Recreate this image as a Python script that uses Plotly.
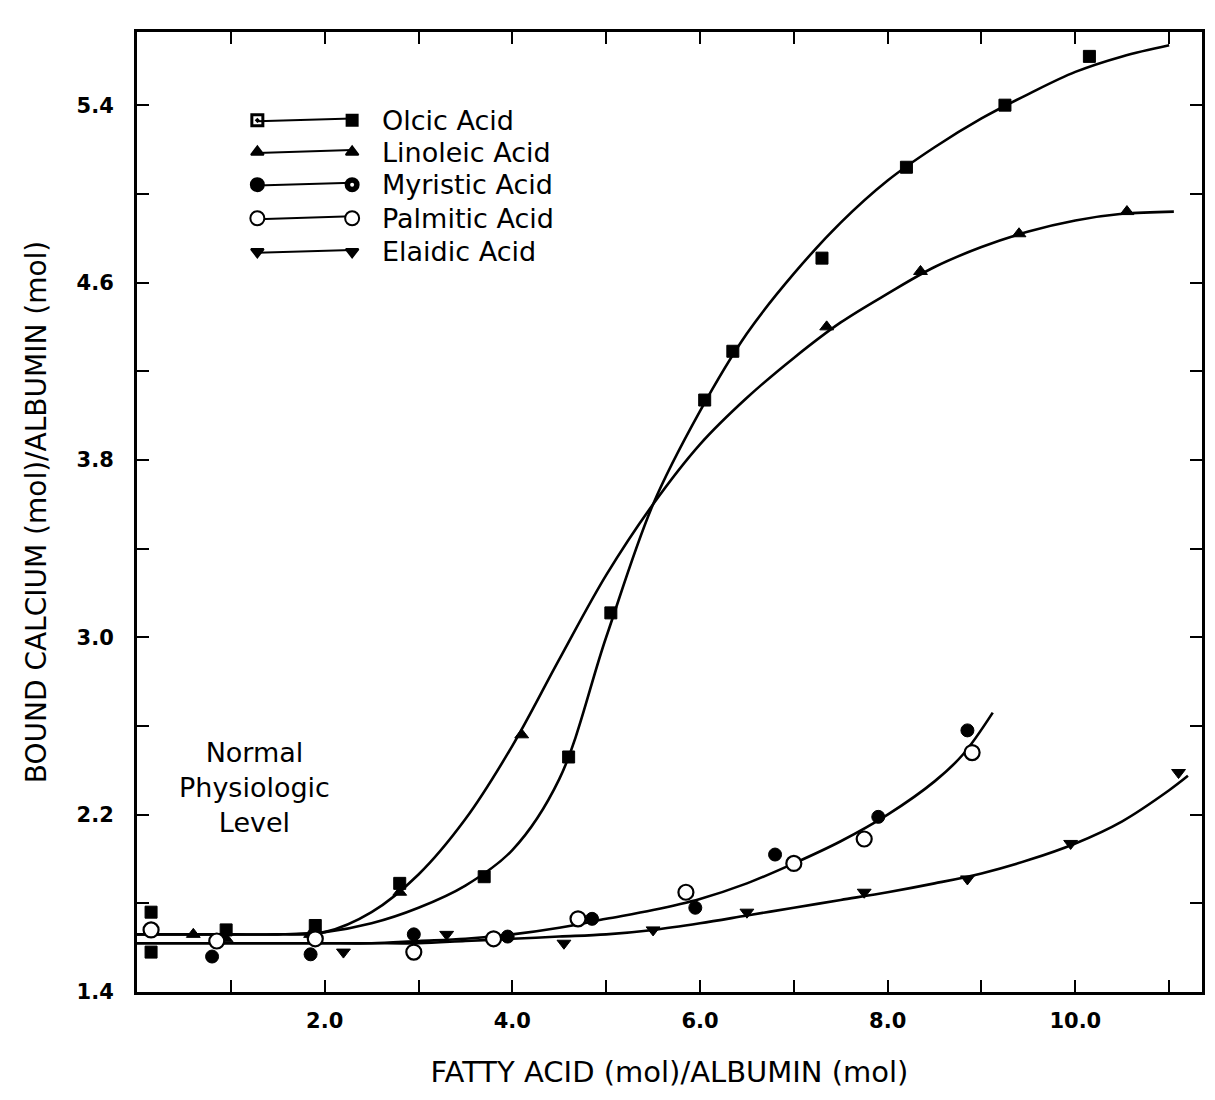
import plotly.graph_objects as go

# ---------------- data ----------------
oleic_x = [0.15, 0.15, 0.95, 1.9, 2.8, 3.7, 4.6, 5.05, 6.05, 6.35, 7.3, 8.2, 9.25, 10.15]
oleic_y = [1.76, 1.58, 1.68, 1.70, 1.89, 1.92, 2.46, 3.11, 4.07, 4.29, 4.71, 5.12, 5.40, 5.62]
oleic_cx = [0, 0.5, 1, 1.5, 2, 2.5, 3, 3.5, 4, 4.5, 5, 5.5, 6, 6.5, 7, 7.5, 8, 8.5, 9, 9.5, 10, 10.5, 11]
oleic_cy = [1.66, 1.66, 1.66, 1.66, 1.67, 1.71, 1.78, 1.88, 2.04, 2.36, 3.00, 3.60, 4.02, 4.37, 4.64, 4.87, 5.06, 5.21, 5.34, 5.45, 5.55, 5.62, 5.67]

lino_x = [0.6, 0.95, 1.85, 2.8, 4.1, 7.35, 8.35, 9.4, 10.55]
lino_y = [1.66, 1.64, 1.66, 1.85, 2.56, 4.40, 4.65, 4.82, 4.92]
lino_cx = [0, 0.5, 1, 1.5, 2, 2.5, 3, 3.5, 4, 4.5, 5, 5.5, 6, 6.5, 7, 7.5, 8, 8.5, 9, 9.5, 10, 10.5, 11.05]
lino_cy = [1.66, 1.66, 1.66, 1.66, 1.67, 1.76, 1.93, 2.18, 2.51, 2.90, 3.28, 3.60, 3.87, 4.08, 4.26, 4.42, 4.55, 4.67, 4.76, 4.83, 4.88, 4.91, 4.92]

myr_x = [0.8, 1.85, 2.95, 3.95, 4.85, 5.95, 6.8, 7.9, 8.85]
myr_y = [1.56, 1.57, 1.66, 1.65, 1.73, 1.78, 2.02, 2.19, 2.58]
palm_x = [0.15, 0.85, 1.9, 2.95, 3.8, 4.7, 5.85, 7.0, 7.75, 8.9]
palm_y = [1.68, 1.63, 1.64, 1.58, 1.64, 1.73, 1.85, 1.98, 2.09, 2.48]
mp_cx = [0, 0.5, 1, 1.5, 2, 2.5, 3, 3.5, 4, 4.5, 5, 5.5, 6, 6.5, 7, 7.5, 8, 8.5, 8.8, 9.12]
mp_cy = [1.62, 1.62, 1.62, 1.62, 1.62, 1.62, 1.63, 1.64, 1.66, 1.69, 1.73, 1.77, 1.82, 1.89, 1.98, 2.08, 2.20, 2.35, 2.47, 2.66]

ela_x = [2.2, 3.3, 4.55, 5.5, 6.5, 7.75, 8.85, 9.95, 11.1]
ela_y = [1.58, 1.66, 1.62, 1.68, 1.76, 1.85, 1.91, 2.07, 2.39]
ela_cx = [0, 0.5, 1, 1.5, 2, 2.5, 3, 3.5, 4, 4.5, 5, 5.5, 6, 6.5, 7, 7.5, 8, 8.5, 9, 9.5, 10, 10.5, 11, 11.2]
ela_cy = [1.62, 1.62, 1.62, 1.62, 1.62, 1.62, 1.62, 1.63, 1.64, 1.65, 1.66, 1.68, 1.71, 1.745, 1.78, 1.815, 1.85, 1.89, 1.935, 1.995, 2.07, 2.17, 2.31, 2.375]

legend_names = ["Olcic Acid", "Linoleic Acid", "Myristic Acid", "Palmitic Acid", "Elaidic Acid"]
y_ticks = [1.4, 2.2, 3.0, 3.8, 4.6, 5.4]
x_ticks = [2, 4, 6, 8, 10]

FONT = "DejaVu Sans, Verdana, sans-serif"
K = "black"
fig = go.Figure()

def curve(cx, cy):
    fig.add_trace(go.Scatter(x=cx, y=cy, mode="lines",
                             line=dict(color=K, width=2.6, shape="spline", smoothing=1.0),
                             showlegend=False, hoverinfo="skip"))

curve(oleic_cx, oleic_cy)
curve(lino_cx, lino_cy)
curve(mp_cx, mp_cy)
curve(ela_cx, ela_cy)

def pts(x, y, sym, size, fill, lw=2):
    fig.add_trace(go.Scatter(x=x, y=y, mode="markers",
                             marker=dict(symbol=sym, size=size, color=fill, line=dict(color=K, width=lw)),
                             showlegend=False))

pts(oleic_x, oleic_y, "square", 12, K, 1)
pts(lino_x, lino_y, "triangle-up", 12, K, 1)
pts(palm_x, palm_y, "circle", 15, "white", 2.2)
pts(myr_x, myr_y, "circle", 13, K, 1)
pts(ela_x, ela_y, "triangle-down", 12, K, 1)

# ---------------- hand-drawn style legend (overlay axis in paper units) ----------------
leg_y = [0.908, 0.875, 0.841, 0.806, 0.771]
leg_x0, leg_x1 = 0.113, 0.202
leg_left = [("square-open-dot", K, 11), ("triangle-up", K, 11), ("circle", K, 13), ("circle", "white", 14), ("triangle-down", K, 11)]
leg_right = [("square", K, 11), ("triangle-up", K, 11), ("circle", K, 13), ("circle", "white", 14), ("triangle-down", K, 11)]
for i, name in enumerate(legend_names):
    fig.add_trace(go.Scatter(x=[leg_x0, leg_x1], y=[leg_y[i] - 0.001, leg_y[i] + 0.002], xaxis="x2", yaxis="y2",
                             mode="lines", line=dict(color=K, width=2), showlegend=False, hoverinfo="skip"))
    for (sym, fill, sz), xx in ((leg_left[i], leg_x0), (leg_right[i], leg_x1)):
        fig.add_trace(go.Scatter(x=[xx], y=[leg_y[i]], xaxis="x2", yaxis="y2", mode="markers",
                                 marker=dict(symbol=sym, size=sz, color=fill,
                                             line=dict(color=K, width=3 if "open" in sym else 2)),
                                 showlegend=False, hoverinfo="skip"))
    if i == 2:  # white centre on the right myristic key
        fig.add_trace(go.Scatter(x=[leg_x1], y=[leg_y[i]], xaxis="x2", yaxis="y2", mode="markers",
                                 marker=dict(symbol="circle", size=4, color="white", line=dict(width=0)),
                                 showlegend=False, hoverinfo="skip"))
    fig.add_annotation(x=0.228, y=leg_y[i], xref="paper", yref="paper", text=name, showarrow=False,
                       xanchor="left", yanchor="middle", font=dict(family=FONT, size=27, color=K))

fig.add_annotation(x=0.110, y=0.213, xref="paper", yref="paper", xanchor="center", yanchor="middle",
                   text="Normal<br>Physiologic<br>Level", showarrow=False, align="center",
                   font=dict(family=FONT, size=27, color=K))

fig.update_layout(
    width=1215, height=1100,
    margin=dict(l=129, r=21, t=24, b=116, autoexpand=False),
    paper_bgcolor="white", plot_bgcolor="white",
    font=dict(family=FONT, color=K),
    xaxis=dict(range=[0, 11.35], tickvals=x_ticks, ticktext=[f"{v:.1f}" for v in x_ticks],
               ticks="inside", ticklen=12, tickwidth=2, tickcolor=K,
               minor=dict(dtick=1, tick0=0, ticks="inside", ticklen=12, tickwidth=2, tickcolor=K),
               showline=True, linecolor=K, linewidth=3, mirror="ticks", showgrid=False, zeroline=False,
               tickfont=dict(size=21, family=FONT, weight="bold"), ticklabelstandoff=8,
               title=dict(text="FATTY ACID (mol)/ALBUMIN (mol)", font=dict(size=29, family=FONT), standoff=30)),
    yaxis=dict(range=[1.4, 5.73], tickvals=y_ticks, ticktext=[f"{v:.1f}" for v in y_ticks],
               ticks="inside", ticklen=12, tickwidth=2, tickcolor=K,
               minor=dict(dtick=0.4, tick0=1.4, ticks="inside", ticklen=12, tickwidth=2, tickcolor=K),
               showline=True, linecolor=K, linewidth=3, mirror="ticks", showgrid=False, zeroline=False,
               tickfont=dict(size=21, family=FONT, weight="bold"), ticklabelstandoff=16,
               title=dict(text="BOUND CALCIUM (mol)/ALBUMIN (mol)", font=dict(size=28, family=FONT), standoff=22)),
    xaxis2=dict(range=[0, 1], overlaying="x", visible=False),
    yaxis2=dict(range=[0, 1], overlaying="y", visible=False),
    showlegend=False,
)

fig.write_html("out.html")
